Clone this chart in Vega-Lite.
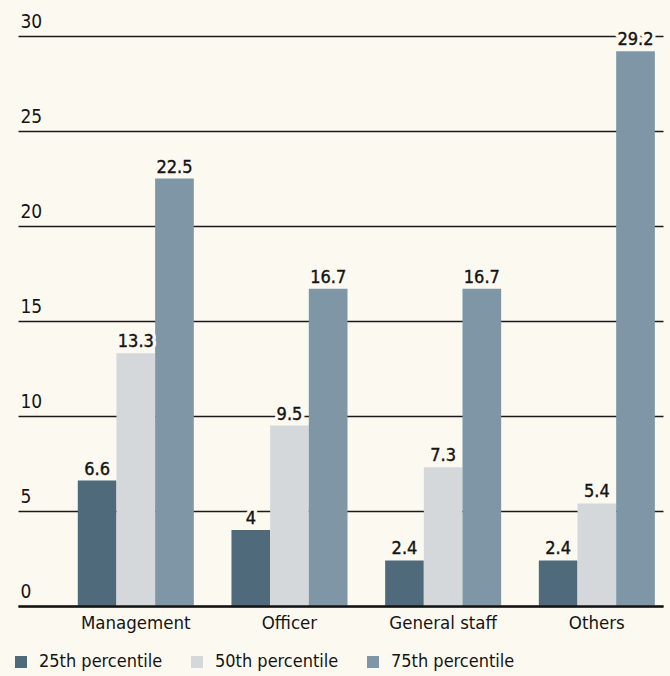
{
  "$schema": "https://vega.github.io/schema/vega-lite/v6.json",
  "width": 645,
  "height": 570,
  "autosize": "none",
  "padding": {"left": 18, "top": 36, "right": 7, "bottom": 70},
  "background": "#fcfaf0",
  "config": {
    "view": {"stroke": null},
    "font": "DejaVu Sans Condensed, Liberation Sans Narrow, sans-serif"
  },
  "data": {
    "values": [
      {"group": "Management", "pct": "25th percentile", "value": 6.6},
      {"group": "Management", "pct": "50th percentile", "value": 13.3},
      {"group": "Management", "pct": "75th percentile", "value": 22.5},
      {"group": "Officer", "pct": "25th percentile", "value": 4},
      {"group": "Officer", "pct": "50th percentile", "value": 9.5},
      {"group": "Officer", "pct": "75th percentile", "value": 16.7},
      {"group": "General staff", "pct": "25th percentile", "value": 2.4},
      {"group": "General staff", "pct": "50th percentile", "value": 7.3},
      {"group": "General staff", "pct": "75th percentile", "value": 16.7},
      {"group": "Others", "pct": "25th percentile", "value": 2.4},
      {"group": "Others", "pct": "50th percentile", "value": 5.4},
      {"group": "Others", "pct": "75th percentile", "value": 29.2}
    ]
  },
  "encoding": {
    "x": {
      "field": "group",
      "type": "nominal",
      "sort": ["Management", "Officer", "General staff", "Others"],
      "scale": {"paddingInner": 0.245, "paddingOuter": 0.221, "align": 0.88},
      "axis": {
        "title": null,
        "domain": true,
        "domainColor": "#141414",
        "domainWidth": 2.5,
        "ticks": false,
        "labelAngle": 0,
        "labelFontSize": 18.5,
        "labelPadding": 7,
        "labelColor": "#141414",
        "zindex": 1
      }
    },
    "xOffset": {
      "field": "pct",
      "type": "nominal",
      "sort": ["25th percentile", "50th percentile", "75th percentile"],
      "scale": {"paddingInner": 0, "paddingOuter": 0}
    },
    "y": {
      "field": "value",
      "type": "quantitative",
      "scale": {"domain": [0, 30]},
      "axis": {
        "title": null,
        "values": [0, 5, 10, 15, 20, 25, 30],
        "domain": false,
        "ticks": false,
        "grid": true,
        "gridColor": "#1a1a1a",
        "gridWidth": 1.3,
        "labelAlign": "left",
        "labelPadding": -2,
        "labelBaseline": "alphabetic",
        "labelOffset": -9,
        "labelFontSize": 19,
        "labelColor": "#141414",
        "zindex": 0
      }
    }
  },
  "layer": [
    {
      "mark": {"type": "bar"},
      "encoding": {
        "color": {
          "field": "pct",
          "type": "nominal",
          "scale": {
            "domain": ["25th percentile", "50th percentile", "75th percentile"],
            "range": ["#4f6a7b", "#d4d8da", "#7f96a6"]
          },
          "legend": {
            "title": null,
            "orient": "none",
            "legendX": -6,
            "legendY": 617,
            "direction": "horizontal",
            "symbolType": "square",
            "symbolSize": 144,
            "symbolStrokeWidth": 0,
            "symbolOpacity": 1,
            "labelFontSize": 18,
            "labelOffset": 9,
            "columnPadding": 25,
            "labelColor": "#141414"
          }
        }
      }
    },
    {
      "mark": {"type": "text", "baseline": "alphabetic", "align": "center", "dy": -6, "fontSize": 18, "stroke": "#fcfaf0", "strokeWidth": 7, "strokeJoin": "round", "fill": "#fcfaf0"},
      "encoding": {"text": {"field": "value", "type": "quantitative"}}
    },
    {
      "mark": {"type": "text", "baseline": "alphabetic", "align": "center", "dy": -6, "fontSize": 18, "fill": "#141414", "stroke": "#141414", "strokeWidth": 0.4},
      "encoding": {"text": {"field": "value", "type": "quantitative"}}
    }
  ]
}
